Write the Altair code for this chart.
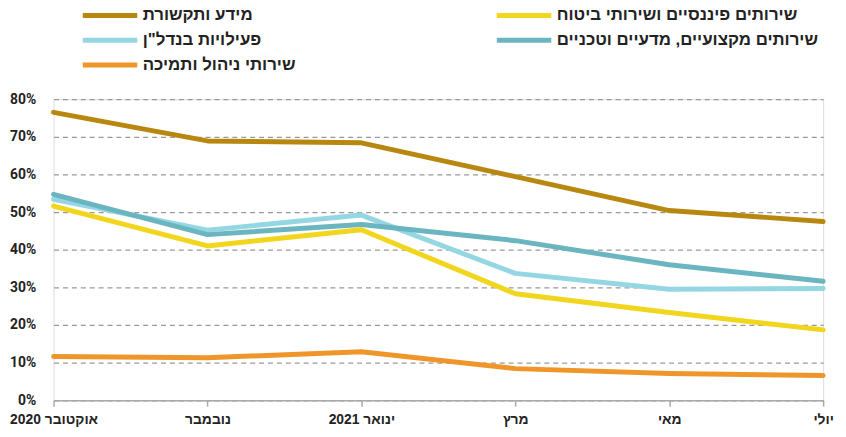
import altair as alt
import pandas as pd

months = ["אוקטובר 2020", "נובמבר", "ינואר 2021", "מרץ", "מאי", "יולי"]

# legend order (filled column by column: left column first, then right column)
series_names = [
    "מידע ותקשורת",
    'פעילויות בנדל"ן',
    "שירותי ניהול ותמיכה",
    "שירותים פיננסיים ושירותי ביטוח",
    "שירותים מקצועיים, מדעיים וטכניים",
]
series_colors = ["#B8870F", "#95D6E3", "#EF962B", "#F2D51D", "#6BB5C0"]

info = [76.5, 68.9, 68.4, 59.4, 50.4, 47.5]
realestate = [53.4, 45.2, 49.2, 33.7, 29.5, 29.7]
management = [11.6, 11.3, 12.9, 8.4, 7.1, 6.6]
finance = [51.6, 41.0, 45.3, 28.3, 23.3, 18.7]
professional = [54.7, 44.0, 46.7, 42.4, 36.0, 31.6]

y_ticks = [0, 10, 20, 30, 40, 50, 60, 70, 80]

# drawing order (first drawn at the bottom)
draw_order = [
    (series_names[0], info),
    (series_names[1], realestate),
    (series_names[4], professional),
    (series_names[3], finance),
    (series_names[2], management),
]
rows = []
for k, (name, vals) in enumerate(draw_order):
    for m, v in zip(months, vals):
        rows.append({"month": m, "value": v, "series": name, "z": k})
df = pd.DataFrame(rows)

HEB = "Liberation Sans Narrow, Liberation Sans, DejaVu Sans"

x = alt.X(
    "month:N",
    sort=months,
    scale=alt.Scale(type="point", padding=0),
    axis=alt.Axis(
        title=None,
        labelAngle=0,
        labelFontSize=14,
        labelFontWeight="bold",
        labelColor="#222222",
        labelFont=HEB,
        labelPadding=6,
        domainColor="#AAAAAA",
        domainWidth=1.5,
        tickColor="#AAAAAA",
        tickWidth=1.5,
        tickSize=6,
        grid=False,
    ),
)

y = alt.Y(
    "value:Q",
    scale=alt.Scale(domain=[0, 80], nice=False),
    axis=alt.Axis(
        title=None,
        values=y_ticks,
        labelExpr="datum.value + '%'",
        labelFontSize=14,
        labelFontWeight="bold",
        labelColor="#222222",
        labelFont="Roboto",
        labelPadding=18,
        domain=False,
        ticks=False,
        grid=True,
        gridColor="#999999",
        gridDash=[5, 4],
        gridWidth=1.3,
    ),
)

color = alt.Color(
    "series:N",
    scale=alt.Scale(domain=series_names, range=series_colors),
    legend=alt.Legend(
        title=None,
        orient="none",
        legendX=27,
        legendY=-94,
        columns=2,
        columnPadding=200,
        rowPadding=6,
        clipHeight=19,
        symbolType="stroke",
        symbolSize=3025,
        symbolStrokeWidth=5,
        labelFontSize=17,
        labelFontWeight="bold",
        labelFont=HEB,
        labelColor="#222222",
        labelOffset=3,
        labelLimit=500,
    ),
)

chart = (
    alt.Chart(df)
    .mark_line(strokeWidth=5, strokeCap="round", strokeJoin="round")
    .encode(x=x, y=y, color=color, order="z:Q", detail="series:N")
    .properties(
        width=777,
        height=304,
        autosize=alt.AutoSizeParams(type="none"),
        padding={"left": 46, "top": 90, "right": 15, "bottom": 27},
    )
    .configure_view(stroke=None)
    .configure(background="white")
)

chart.save("out.html", embed_options={"renderer": "svg", "actions": False})
